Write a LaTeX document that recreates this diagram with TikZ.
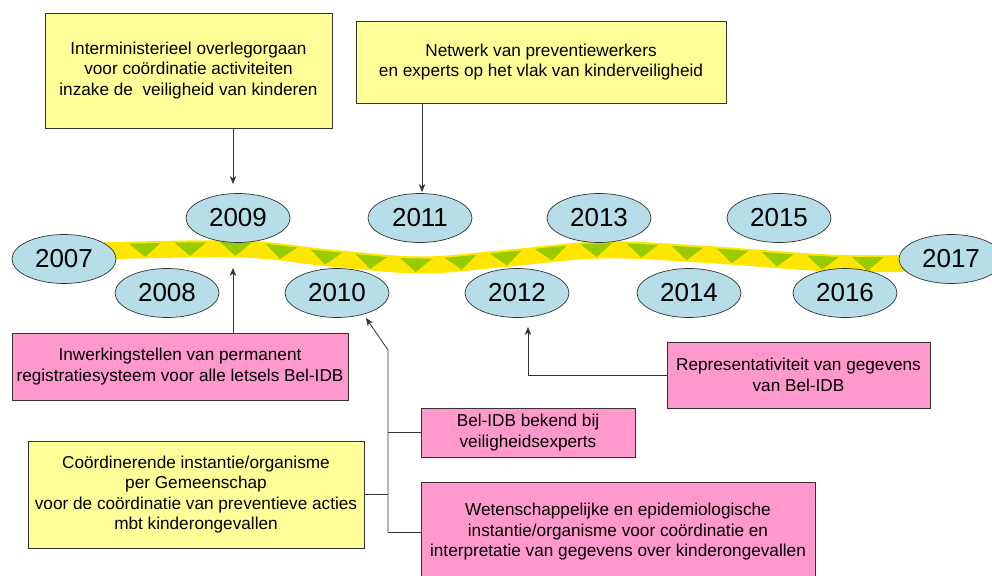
\documentclass[tikz,border=0pt]{standalone}
\usepackage{fontspec}
\setmainfont{Liberation Sans}
\usetikzlibrary{shapes.geometric,arrows.meta,decorations.markings}
\definecolor{boxyellow}{HTML}{FFFF99}
\definecolor{boxpink}{HTML}{FF99CC}
\definecolor{ellblue}{HTML}{B7DEE8}
\definecolor{bandyellow}{HTML}{FFE600}
\definecolor{trigreen}{HTML}{99CC00}
\definecolor{edgegray}{HTML}{333333}
\tikzset{
  year/.style={ellipse, draw=edgegray, line width=0.7pt, fill=ellblue, minimum width=104pt, minimum height=49pt, inner sep=0pt, font=\fontsize{26}{26}\selectfont},
  infobox/.style={rectangle, draw=edgegray, line width=0.8pt, align=center, inner sep=0pt, font=\fontsize{17.2}{20.5}\selectfont},
  ybox/.style={infobox, fill=boxyellow},
  pbox/.style={infobox, fill=boxpink},
  conn/.style={draw=edgegray, line width=0.8pt},
  arr/.style={conn, -{Stealth[length=8pt,width=6.5pt]}}
}
\begin{document}
\begin{tikzpicture}[x=1pt,y=1pt]
\useasboundingbox (0,0) rectangle (992,-575);
\fill[white] (0,0) rectangle (992,-575);

% band
\draw[line width=17pt, bandyellow, postaction={decorate},
  decoration={markings, mark=between positions 45pt and -20pt step 45.3pt with {\fill[trigreen] (-16pt,6.5pt) -- (16pt,6.5pt) -- (0pt,-7pt) -- cycle;}}]
  plot[smooth, tension=0.6] coordinates {(100,-251) (240,-249) (330,-258) (420,-265) (500,-259) (600,-250) (700,-254) (830,-263) (915,-263)};

% years
\node[year] (y07) at (64,-259) {2007};
\node[year] (y08) at (167,-293) {2008};
\node[year] (y09) at (238,-218) {2009};
\node[year] (y10) at (337,-293) {2010};
\node[year] (y11) at (420,-218) {2011};
\node[year] (y12) at (517,-293) {2012};
\node[year] (y13) at (599,-218) {2013};
\node[year] (y14) at (689,-293) {2014};
\node[year] (y15) at (779,-218) {2015};
\node[year] (y16) at (845,-293) {2016};
\node[year] (y17) at (951,-259) {2017};

% boxes
\node[ybox, minimum width=287pt, minimum height=115pt] (tb1) at (188.5,-70.5)
  {Interministerieel overlegorgaan\\voor coördinatie activiteiten\\inzake de\ \ veiligheid van kinderen};
\node[ybox, minimum width=370pt, minimum height=82pt] (tb2) at (541,-62)
  {Netwerk van preventiewerkers\\en experts op het vlak van kinderveiligheid};
\node[pbox, minimum width=336pt, minimum height=67pt] (pk1) at (180,-366.5)
  {Inwerkingstellen van permanent\\registratiesysteem voor alle letsels Bel-IDB};
\node[ybox, minimum width=336pt, minimum height=107pt] (yb) at (196,-494.5)
  {Coördinerende instantie/organisme\\per Gemeenschap\\voor de coördinatie van preventieve acties\\mbt kinderongevallen};
\node[pbox, minimum width=214pt, minimum height=49pt] (bel) at (528,-432.5)
  {Bel-IDB bekend bij\\veiligheidsexperts};
\node[pbox, minimum width=394pt, minimum height=100pt] (wet) at (618,-532)
  {Wetenschappelijke en epidemiologische\\instantie/organisme voor coördinatie en\\interpretatie van gegevens over kinderongevallen};
\node[pbox, minimum width=263pt, minimum height=66pt] (rep) at (798.5,-375)
  {Representativiteit van gegevens\\van Bel-IDB};

% connector points
\coordinate (a1) at (233,-184);
\coordinate (a2) at (422,-192);
\coordinate (a3) at (233,-268);
\coordinate (a4) at (366,-318);
\coordinate (j0) at (388,-350);
\coordinate (j3) at (388,-531);
\coordinate (a5) at (528,-327);

% connectors
\draw[arr] (tb1.south -| a1) -- (a1);
\draw[arr] (tb2.south -| a2) -- (a2);
\draw[arr] (pk1.north -| a3) -- (a3);
\draw[arr] (wet.west -| j3) -- (j0) -- (a4);
\draw[conn] (wet.west) -- (wet.west -| j3);
\draw[conn] (bel.west) -- (bel.west -| j0);
\draw[conn] (yb.east) -- (yb.east -| j0);
\draw[arr] (rep.west) -| (a5);
\end{tikzpicture}
\end{document}
